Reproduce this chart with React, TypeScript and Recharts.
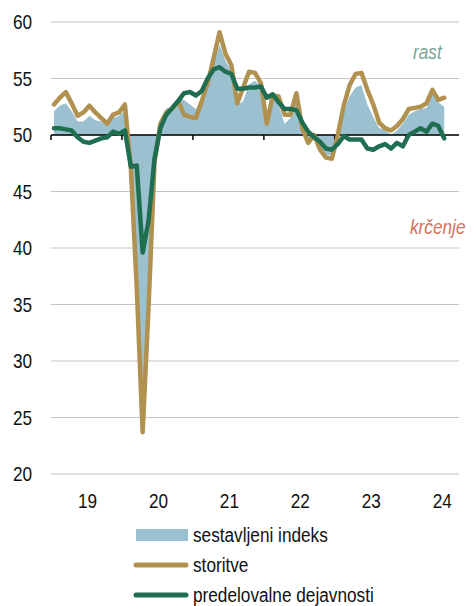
import React from "react";
import {
  ComposedChart,
  Area,
  Line,
  XAxis,
  YAxis,
  CartesianGrid,
  ReferenceLine,
} from "recharts";

// monthly PMI, Jan 2019 - Jul 2024
const composite = [
  52.1, 52.6, 52.8, 52.1, 51.2, 51.2, 51.7, 51.3, 51.2, 50.8, 51.5, 51.7,
  52.2, 46.1, 39.4, 26.2, 36.3, 47.7, 50.8, 52.4, 52.3, 53.3, 53.1, 52.7,
  52.3, 53.2, 54.8, 56.3, 58.0, 56.6, 55.7, 52.6, 53.0, 54.5, 54.8, 54.3,
  51.4, 53.5, 52.7, 51.0, 51.5, 53.5, 50.8, 49.3, 49.7, 49.0, 48.2, 48.2,
  49.8, 52.1, 53.4, 54.2, 54.4, 52.7, 51.6, 50.6, 50.5, 50.0, 50.4, 51.0,
  51.8, 52.1, 52.3, 52.4, 53.7, 52.9, 52.5,
];

const services = [
  52.7, 53.3, 53.8, 52.8, 51.7, 52.0, 52.6, 52.0, 51.5, 51.0, 51.8, 52.0,
  52.7, 47.1, 36.5, 23.7, 34.8, 47.5, 51.0, 52.0, 52.3, 53.0, 51.8, 51.6,
  51.5, 53.0, 54.6, 56.8, 59.1, 57.2, 56.2, 52.8, 54.2, 55.6, 55.5, 54.6,
  51.0, 53.5, 53.4, 51.8, 51.8, 53.7, 50.6, 49.3, 50.0, 48.7, 48.0, 47.9,
  50.0, 52.6, 54.4, 55.4, 55.5, 54.0, 52.7, 51.1, 50.6, 50.4, 50.8, 51.4,
  52.3, 52.4, 52.5, 52.8, 54.0, 53.1, 53.3,
];

const manufacturing = [
  50.6, 50.6, 50.5, 50.4, 49.8, 49.4, 49.3, 49.5, 49.7, 49.8, 50.3, 50.1,
  50.4, 47.2, 47.3, 39.6, 42.4, 47.9, 50.6, 51.8, 52.4, 53.0, 53.7, 53.8,
  53.5, 53.9, 55.0, 55.8, 56.0, 55.6, 55.4, 54.1, 54.1, 54.2, 54.2, 54.3,
  53.3, 53.6, 52.9, 52.3, 52.3, 52.2, 51.1, 50.3, 49.8, 49.4, 48.8, 48.7,
  49.2, 49.9, 49.6, 49.6, 49.6, 48.8, 48.7, 49.0, 49.2, 48.8, 49.3, 49.0,
  50.0, 50.3, 50.6, 50.3, 51.0, 50.8, 49.7,
];

const yearLabels = ["19", "20", "21", "22", "23", "24"];
const yTicks = [20, 25, 30, 35, 40, 45, 50, 55, 60];
const monthsOnAxis = 69;

const seriesNames = {
  composite: "sestavljeni indeks",
  services: "storitve",
  manufacturing: "predelovalne dejavnosti",
};

const colors = {
  composite: "#9bc1d0",
  services: "#b0914f",
  manufacturing: "#206e52",
};

// no Arial Narrow here, so squeeze Liberation Sans sideways
const font = "'Liberation Sans', Arial, sans-serif";
const squeeze = 0.86;

const data = composite.map((v, i) => ({
  x: i + 0.5,
  composite: v,
  services: services[i],
  manufacturing: manufacturing[i],
}));

const labelTicks = yearLabels.map((_, i) => i * 12 + 6);
const yearStarts = yearLabels.map((_, i) => i * 12);

const XTick = (props: any) => {
  const { x, y, payload } = props;
  return (
    <text
      transform={`translate(${x + 1},${y}) scale(${squeeze},1)`}
      textAnchor="middle"
      dy="0.71em"
      fill="#111"
      fontSize={20}
      fontFamily={font}
    >
      {yearLabels[Math.floor(payload.value / 12)]}
    </text>
  );
};

const YTick = (props: any) => {
  const { x, y, payload } = props;
  return (
    <text
      transform={`translate(${x},${y}) scale(${squeeze},1)`}
      textAnchor="end"
      dy="0.355em"
      fill="#111"
      fontSize={20}
      fontFamily={font}
    >
      {payload.value}
    </text>
  );
};

const narrow: React.CSSProperties = {
  fontFamily: font,
  fontSize: 20,
  transform: `scaleX(${squeeze})`,
  transformOrigin: "left center",
  whiteSpace: "nowrap",
};

const Legend = () => (
  <div style={{ position: "absolute", left: 125, top: 512, color: "#111" }}>
    <div style={{ display: "flex", alignItems: "center", height: 30 }}>
      <svg width={60} height={14}>
        <rect x={3} y={1} width={52} height={12} fill={colors.composite} />
      </svg>
      <span style={narrow}>{seriesNames.composite}</span>
    </div>
    <div style={{ display: "flex", alignItems: "center", height: 30 }}>
      <svg width={60} height={14}>
        <line x1={3} y1={7} x2={53} y2={7} stroke={colors.services} strokeWidth={5} strokeLinecap="round" />
      </svg>
      <span style={narrow}>{seriesNames.services}</span>
    </div>
    <div style={{ display: "flex", alignItems: "center", height: 30 }}>
      <svg width={60} height={14}>
        <line x1={3} y1={7} x2={53} y2={7} stroke={colors.manufacturing} strokeWidth={5} strokeLinecap="round" />
      </svg>
      <span style={narrow}>{seriesNames.manufacturing}</span>
    </div>
  </div>
);

export default function App() {
  return (
    <div style={{ position: "relative", width: 467, height: 598 }}>
      <ComposedChart
        width={467}
        height={506}
        data={data}
        margin={{ top: 14, right: 16, bottom: 0, left: 0 }}
      >
        <CartesianGrid vertical={false} stroke="#c4c4c4" strokeWidth={1.2} />
        <XAxis
          dataKey="x"
          type="number"
          domain={[0, monthsOnAxis]}
          ticks={labelTicks}
          axisLine={false}
          tickLine={false}
          tickSize={0}
          tickMargin={20}
          height={40}
          tick={<XTick />}
        />
        <YAxis
          type="number"
          domain={[20, 60]}
          ticks={yTicks}
          axisLine={false}
          tickLine={false}
          tickSize={0}
          tickMargin={19}
          width={43}
          tick={<YTick />}
        />
        <Area
          dataKey="composite"
          type="linear"
          baseValue={50}
          fill={colors.composite}
          fillOpacity={1}
          stroke="none"
          isAnimationActive={false}
        />
        <ReferenceLine y={50} stroke="#000" strokeWidth={1.5} />
        {yearStarts.map((m) => (
          <ReferenceLine
            key={m}
            segment={[
              { x: m, y: 50 },
              { x: m, y: 49.55 },
            ]}
            stroke="#000"
            strokeWidth={1.5}
          />
        ))}
        <Line
          dataKey="services"
          type="linear"
          stroke={colors.services}
          strokeWidth={4.5}
          strokeLinejoin="round"
          strokeLinecap="round"
          dot={false}
          isAnimationActive={false}
        />
        <Line
          dataKey="manufacturing"
          type="linear"
          stroke={colors.manufacturing}
          strokeWidth={4.5}
          strokeLinejoin="round"
          strokeLinecap="round"
          dot={false}
          isAnimationActive={false}
        />
      </ComposedChart>
      <div style={{ ...narrow, position: "absolute", left: 405, top: 33, fontStyle: "italic", color: "#7aa595" }}>
        rast
      </div>
      <div style={{ ...narrow, position: "absolute", left: 402, top: 208, fontStyle: "italic", color: "#d0735f" }}>
        krčenje
      </div>
      <Legend />
    </div>
  );
}
